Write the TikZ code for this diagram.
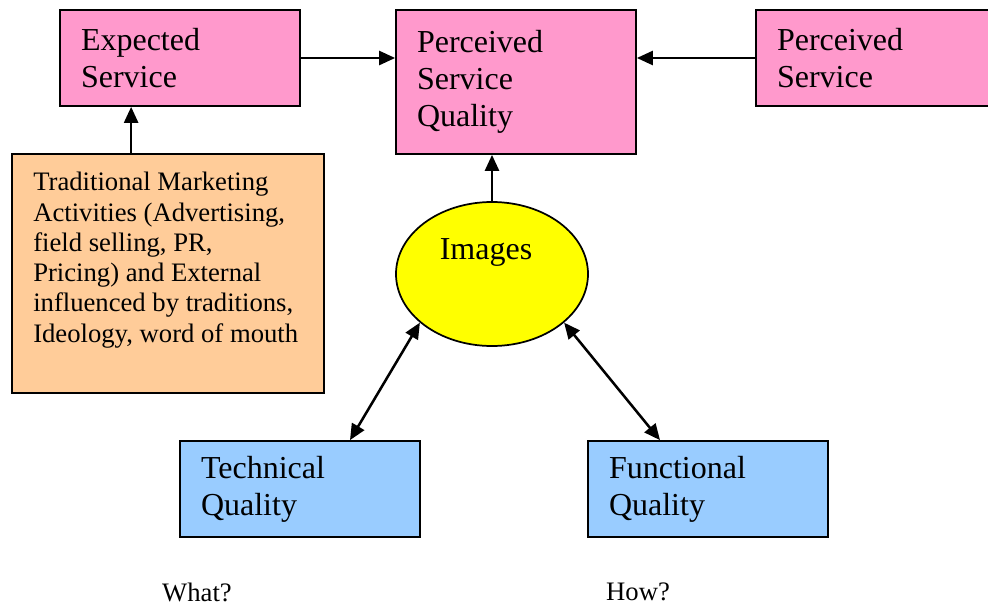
\documentclass[tikz,border=0pt]{standalone}
\usepackage{fontspec}
\setmainfont{Liberation Serif}
\usetikzlibrary{arrows.meta}
\usetikzlibrary{shapes.geometric}

\definecolor{servpink}{RGB}{255,153,204}
\definecolor{mktorange}{RGB}{255,204,153}
\definecolor{imgyellow}{RGB}{255,255,0}
\definecolor{qualblue}{RGB}{153,204,255}

\begin{document}
\begin{tikzpicture}[x=0.75pt,y=0.75pt,yscale=-1,xscale=1,
  qbox/.style={draw, line width=1.3pt, minimum width=180pt, minimum height=72pt, inner xsep=15.75pt, text width=148.5pt, align=left, font=\rmfamily\fontsize{24}{27.75}\selectfont},
  arr/.style={line width=1.9pt, -{Triangle[length=12pt,width=10.5pt]}},
  dblarr/.style={line width=1.9pt, {Triangle[length=12pt,width=10.5pt]}-{Triangle[length=12pt,width=10.5pt]}}]
%set diagram frame: 988 x 607
\clip (0,0) rectangle (988,607);

%Shape: Rectangle [Expected Service]
\node [qbox, fill=servpink] (exp) at (180,58) {Expected\\Service};
%Shape: Rectangle [Perceived Service Quality]
\node [qbox, fill=servpink, minimum height=108pt] (psq) at (516,82) {Perceived\\Service\\Quality};
%Shape: Rectangle [Perceived Service]
\node [qbox, fill=servpink] (pserv) at (876,58) {Perceived\\Service};

%Shape: Rectangle [marketing activities]
\node [draw, line width=1.3pt, fill=mktorange, minimum width=234pt, minimum height=179.25pt] (mkt) at (168,273.5) {};
% Text Node
\node [anchor=north west, inner sep=0pt, align=left, font=\rmfamily\fontsize{20}{22.7}\selectfont] (mkttext) at (33,172) {Traditional Marketing\\Activities (Advertising,\\field selling, PR,\\Pricing) and External\\influenced by traditions,\\Ideology, word of mouth};

%Shape: Ellipse [Images]
\node [draw, line width=1.3pt, fill=imgyellow, ellipse, minimum width=144pt, minimum height=108pt, inner sep=0pt,
  label={[font=\rmfamily\fontsize{24}{27.75}\selectfont, xshift=-4.5pt, yshift=16.5pt]center:Images}] (img) at (492,274) {};

%Shape: Rectangle [Technical Quality]
\node [qbox, fill=qualblue] (tq) at (300,489) {Technical\\Quality};
%Shape: Rectangle [Functional Quality]
\node [qbox, fill=qualblue] (fq) at (708,489) {Functional\\Quality};

% Text Node
\node [font=\rmfamily\fontsize{20}{22.7}\selectfont] (what) at (197,592) {What?};
% Text Node
\node [font=\rmfamily\fontsize{20}{22.7}\selectfont] (how) at (638,592) {How?};

%Straight Lines [arrows]
\draw [arr] (exp.east) -- (exp.east -| psq.west);
\draw [arr] (pserv.west) -- (pserv.west -| psq.east);
\draw [arr] ([xshift=90pt]mkt.north west) -- ([xshift=90pt]mkt.north west |- exp.south);
\draw [arr] (img.north) -- (img.north |- psq.south);
\draw [dblarr] (img.214) -- ([xshift=37.5pt]tq.north);
\draw [dblarr] (img.326) -- ([xshift=-36pt]fq.north);

\end{tikzpicture}
\end{document}
